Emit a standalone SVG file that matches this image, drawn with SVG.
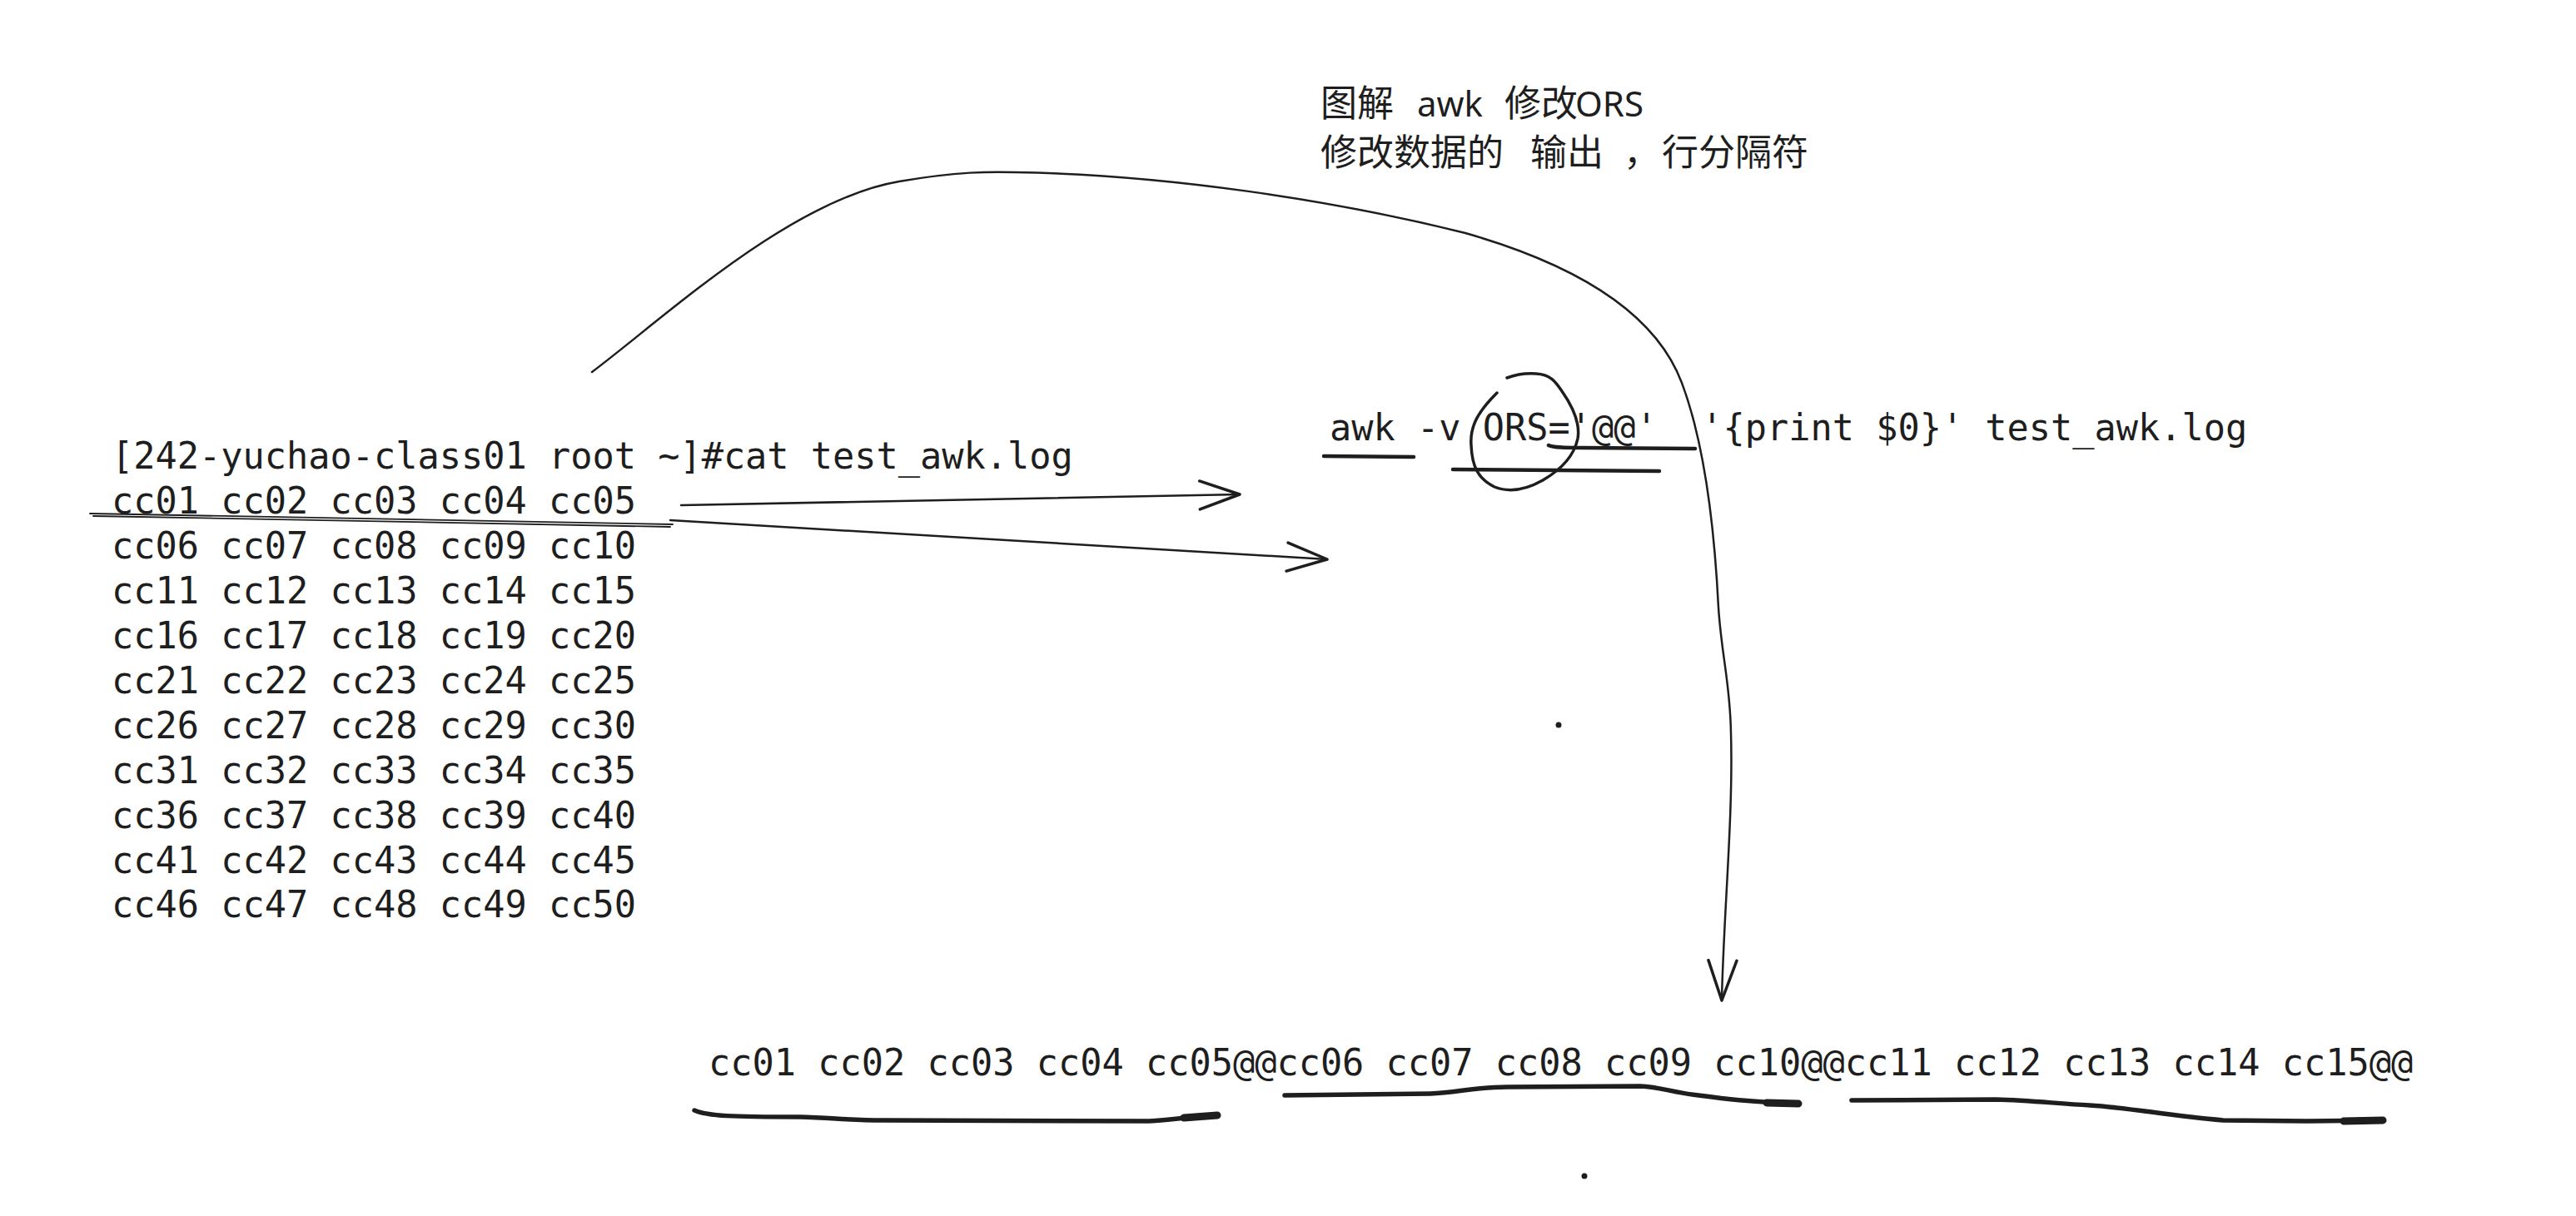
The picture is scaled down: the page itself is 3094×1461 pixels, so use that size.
<svg xmlns="http://www.w3.org/2000/svg" width="3094" height="1461" viewBox="0 0 3094 1461">
  <style>
    .mono { font-family: "DejaVu Sans Mono", "Liberation Mono", monospace; font-size: 43.6px; fill: #1e1e1e; }
    .cjk { font-family: "Noto Sans CJK SC", "Noto Sans", sans-serif; font-size: 44px; fill: #1e1e1e; }
    .lat { font-family: "Noto Sans", "Noto Sans CJK SC", sans-serif; font-size: 42px; }
    .conn { fill: none; stroke: #1e1e1e; stroke-width: 2.5; stroke-linecap: round; stroke-linejoin: round; }
    .mark { fill: none; stroke: #1e1e1e; stroke-width: 4.5; stroke-linecap: round; stroke-linejoin: round; }
    .thick { fill: none; stroke: #1e1e1e; stroke-width: 5.5; stroke-linecap: round; stroke-linejoin: round; }
    .blob { fill: none; stroke: #1e1e1e; stroke-width: 9; stroke-linecap: round; }
    .thin { fill: none; stroke: #1e1e1e; stroke-width: 1.8; stroke-linecap: round; }
  </style>
  <defs>
    <marker id="open-arrow" markerUnits="userSpaceOnUse" markerWidth="60" markerHeight="44" refX="50" refY="20" orient="auto" viewBox="0 0 60 44">
      <path d="M2,3 L50,20 L2,37" fill="none" stroke="#1e1e1e" stroke-width="3.5" stroke-linecap="round" stroke-linejoin="round"/>
    </marker>
  </defs>
  <rect x="0" y="0" width="3094" height="1461" fill="#ffffff"/>

  <g id="title">
    <text class="cjk" y="140"><tspan x="1586">图解</tspan><tspan class="lat" x="1702">awk</tspan><tspan x="1807">修改</tspan><tspan class="lat" x="1892">ORS</tspan></text>
    <text class="cjk" y="199"><tspan x="1586">修改数据的</tspan><tspan x="1838">输出</tspan><tspan x="1950">，</tspan><tspan x="1996">行分隔符</tspan></text>
  </g>

  <g id="terminal-output">
    <text class="mono" x="134" y="563">[242-yuchao-class01 root ~]#cat test_awk.log</text>
    <text class="mono" x="134" y="617">cc01 cc02 cc03 cc04 cc05</text>
    <text class="mono" x="134" y="671">cc06 cc07 cc08 cc09 cc10</text>
    <text class="mono" x="134" y="725">cc11 cc12 cc13 cc14 cc15</text>
    <text class="mono" x="134" y="779">cc16 cc17 cc18 cc19 cc20</text>
    <text class="mono" x="134" y="833">cc21 cc22 cc23 cc24 cc25</text>
    <text class="mono" x="134" y="887">cc26 cc27 cc28 cc29 cc30</text>
    <text class="mono" x="134" y="941">cc31 cc32 cc33 cc34 cc35</text>
    <text class="mono" x="134" y="995">cc36 cc37 cc38 cc39 cc40</text>
    <text class="mono" x="134" y="1049">cc41 cc42 cc43 cc44 cc45</text>
    <text class="mono" x="134" y="1102">cc46 cc47 cc48 cc49 cc50</text>
  </g>

  <g id="awk-command">
    <text class="mono" x="1597" y="529" xml:space="preserve">awk -v ORS='@@'  '{print $0}' test_awk.log</text>
  </g>

  <g id="result-output">
    <text class="mono" x="851" y="1292">cc01 cc02 cc03 cc04 cc05@@cc06 cc07 cc08 cc09 cc10@@cc11 cc12 cc13 cc14 cc15@@</text>
  </g>

  <g id="annotations">
    <path class="thin" d="M108,617 L808,630"/>
    <path class="thin" d="M112,620 L805,633"/>
    <path class="mark" d="M1590,548 L1698,549"/>
    <path class="mark" d="M1860,535 C1866,538 1880,538 1900,538 L2036,539"/>
    <path class="mark" d="M1745,564 L1993,566"/>
    <path class="conn" style="stroke-width:3.5" d="M1798,472 C1778,492 1765,510 1767,535 C1768,560 1775,575 1795,585 C1810,591 1830,590 1853,577 C1872,566 1890,550 1895,527 C1898,510 1890,490 1876,470 C1868,458 1862,450 1845,449 C1832,448 1818,451 1810,454"/>
    <path class="thick" d="M834,1334 C850,1341 880,1342 960,1342 C1000,1343 1020,1346 1060,1346 L1380,1347 C1410,1346 1430,1341 1462,1340"/>
    <path class="blob" d="M1422,1343 L1462,1340"/>
    <path class="thick" d="M1543,1316 L1718,1314 C1750,1313 1770,1306 1810,1306 L1970,1305 C1995,1306 2010,1313 2040,1316 C2070,1320 2100,1324 2160,1326"/>
    <path class="blob" d="M2122,1325 L2160,1326"/>
    <path class="thick" d="M2224,1322 L2397,1321 C2440,1322 2470,1326 2510,1328 C2560,1331 2600,1340 2670,1346 L2770,1347 L2862,1346"/>
    <path class="blob" d="M2815,1347 L2862,1346"/>
    <circle cx="1872" cy="871" r="3.5" fill="#1e1e1e"/>
    <circle cx="1903" cy="1413" r="3.5" fill="#1e1e1e"/>
  </g>

  <g id="connectors">
    <path class="conn" d="M818,607 L1489,594" marker-end="url(#open-arrow)"/>
    <path class="conn" d="M805,625 L1594,672" marker-end="url(#open-arrow)"/>
    <path class="conn" d="M711,447 C800,380 950,240 1080,218 C1150,206 1190,206 1220,207 C1400,210 1600,240 1760,280 C1900,320 1990,380 2020,460 C2050,540 2060,650 2064,730 C2068,790 2078,820 2079,880 C2082,980 2070,1100 2068,1202" marker-end="url(#open-arrow)"/>
  </g>
</svg>
